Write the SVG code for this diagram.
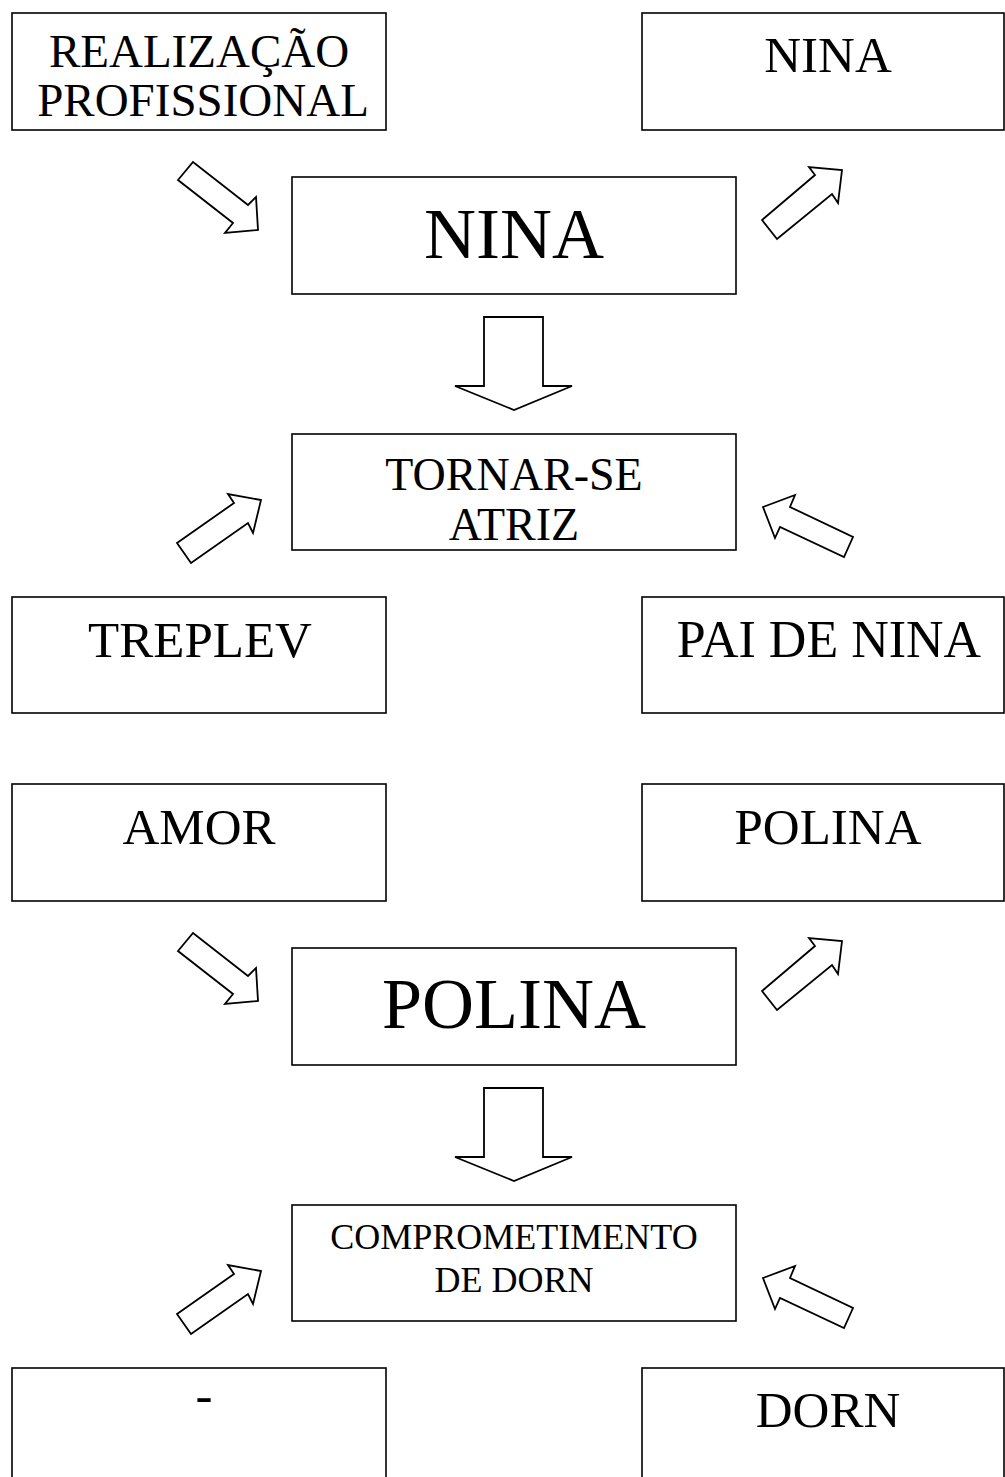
<svg xmlns="http://www.w3.org/2000/svg" width="1005" height="1477" viewBox="0 0 1005 1477">
<style>
.box{fill:#fff;stroke:#000;stroke-width:1.6}
.arr{fill:#fff;stroke:#000;stroke-width:1.8;stroke-linejoin:miter}
text{font-family:"Liberation Serif","Times New Roman",serif;fill:#000;text-anchor:middle}
.s{font-size:51px}
.r{font-size:47px}
.b{font-size:72px}
.m{font-size:46px}
.c{font-size:36px}
</style>
<rect width="1005" height="1477" fill="#fff"/>
<g id="connectors">
<polygon class="arr" points="178,180 193,162 248,205 256,197 258,230 225,233 233,223"/>
<polygon class="arr" points="762,220 777,239 832,194 838,203 842,170 809,167 815,175"/>
<polygon class="arr" points="484,317 543,317 543,386 572,386 514,410 455,386 484,386"/>
<polygon class="arr" points="177,543 191,563 248,523 253,533 261,500 228,494 234,503"/>
<polygon class="arr" points="853,537 844,557 780,527 775,538 763,507 795,495 790,507"/>
<g transform="translate(0,771)">
<polygon class="arr" points="178,180 193,162 248,205 256,197 258,230 225,233 233,223"/>
<polygon class="arr" points="762,220 777,239 832,194 838,203 842,170 809,167 815,175"/>
<polygon class="arr" points="484,317 543,317 543,386 572,386 514,410 455,386 484,386"/>
<polygon class="arr" points="177,543 191,563 248,523 253,533 261,500 228,494 234,503"/>
<polygon class="arr" points="853,537 844,557 780,527 775,538 763,507 795,495 790,507"/>
</g>
</g>
<g id="realizacao"><rect class="box" x="12" y="13" width="374" height="117"/><text class="r" x="199" y="67">REALIZAÇÃO</text><text class="r" x="203" y="116">PROFISSIONAL</text></g>
<g id="nina-small"><rect class="box" x="642" y="13" width="362" height="117"/><text class="s" x="828" y="72">NINA</text></g>
<g id="nina"><rect class="box" x="292" y="177" width="444" height="117"/><text class="b" x="514" y="258">NINA</text></g>
<g id="tornar"><rect class="box" x="292" y="434" width="444" height="116"/><text class="m" x="514" y="490">TORNAR-SE</text><text class="m" x="514" y="540">ATRIZ</text></g>
<g id="treplev"><rect class="box" x="12" y="597" width="374" height="116"/><text class="s" x="200" y="657">TREPLEV</text></g>
<g id="pai"><rect class="box" x="642" y="597" width="362" height="116"/><text class="s" x="829" y="657" style="font-size:52px">PAI DE NINA</text></g>
<g id="amor"><rect class="box" x="12" y="784" width="374" height="117"/><text class="s" x="199" y="844">AMOR</text></g>
<g id="polina-small"><rect class="box" x="642" y="784" width="362" height="117"/><text class="s" x="828" y="844">POLINA</text></g>
<g id="polina"><rect class="box" x="292" y="948" width="444" height="117"/><text class="b" x="514" y="1028">POLINA</text></g>
<g id="comprometimento"><rect class="box" x="292" y="1205" width="444" height="116"/><text class="c" x="514" y="1249">COMPROMETIMENTO</text><text class="c" x="514" y="1292">DE DORN</text></g>
<g id="dash"><rect class="box" x="12" y="1368" width="374" height="120"/><text class="s" x="204" y="1412">-</text></g>
<g id="dorn"><rect class="box" x="642" y="1368" width="362" height="120"/><text class="s" x="828" y="1427">DORN</text></g>
</svg>
